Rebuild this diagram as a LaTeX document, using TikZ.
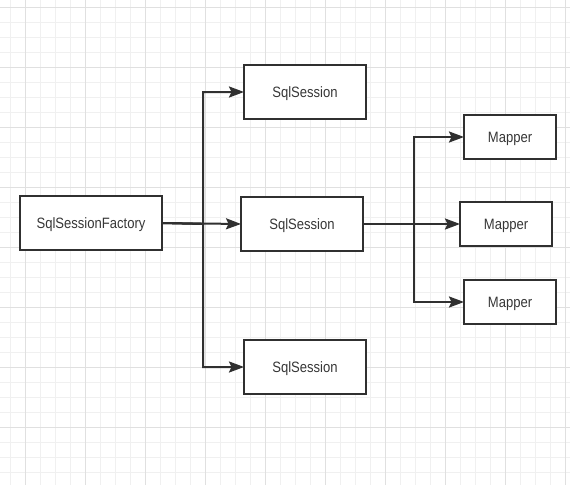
\documentclass[tikz,border=0pt]{standalone}
\usepackage{fontspec}
\setmainfont{Liberation Sans}[FakeStretch=0.87]
\usetikzlibrary{arrows.meta}
\definecolor{gridminor}{gray}{.94}
\definecolor{gridmajor}{gray}{.88}
\definecolor{darkline}{RGB}{48,48,48}
\definecolor{darktext}{RGB}{55,55,55}
\tikzset{
    common/.style={draw=darkline, line width=2pt, rectangle, fill=white,
        text=darktext, font=\fontsize{15}{17}\selectfont, inner sep=0pt,
        outer sep=0pt, text height=10.7pt, text depth=0pt},
    factorybox/.style={common, minimum width=142pt, minimum height=54pt},
    sessionbox/.style={common, minimum width=122pt, minimum height=54pt},
    mapperbox/.style={common, minimum width=92pt, minimum height=44pt},
    link/.style={draw=darkline, line width=2pt,
        -{Stealth[length=15pt, width=11pt, inset=2.5pt]}},
    minorline/.style={gridminor, line width=1pt},
    majorline/.style={gridmajor, line width=1pt}
}
\begin{document}
\begin{tikzpicture}[x=1pt, y=-1pt]
    \useasboundingbox[fill=white] (0,0) rectangle (570,485);
    \foreach \x in {10.5,25.5,...,565.5} \draw[minorline] (\x,0) -- (\x,485);
    \foreach \y in {7.5,22.5,...,482.5} \draw[minorline] (0,\y) -- (570,\y);
    \foreach \x in {25.5,85.5,...,565.5} \draw[majorline] (\x,0) -- (\x,485);
    \foreach \y in {7.5,67.5,...,427.5} \draw[majorline] (0,\y) -- (570,\y);

    \node[factorybox] (factory) at (91,223) {SqlSessionFactory};
    \node[sessionbox] (S-top) at (305,92) {SqlSession};
    \node[sessionbox] (S-mid) at (302,224) {SqlSession};
    \node[sessionbox] (S-bot) at (305,367) {SqlSession};
    \node[mapperbox] (M-top) at (510,137) {Mapper};
    \node[mapperbox] (M-mid) at (506,224) {Mapper};
    \node[mapperbox] (M-bot) at (510,302) {Mapper};

    \coordinate (split-S) at (203,224);
    \coordinate (split-M) at (414,224);

    \draw[link] (factory.east) -- (split-S) |- (S-top.west);
    \draw[link] (factory.east) -- (S-mid.west);
    \draw[link] (factory.east) -- (split-S) |- (S-bot.west);
    \draw[link] (S-mid.east) -- (split-M) |- (M-top.west);
    \draw[link] (S-mid.east) -- (M-mid.west);
    \draw[link] (S-mid.east) -- (split-M) |- (M-bot.west);
\end{tikzpicture}
\end{document}
